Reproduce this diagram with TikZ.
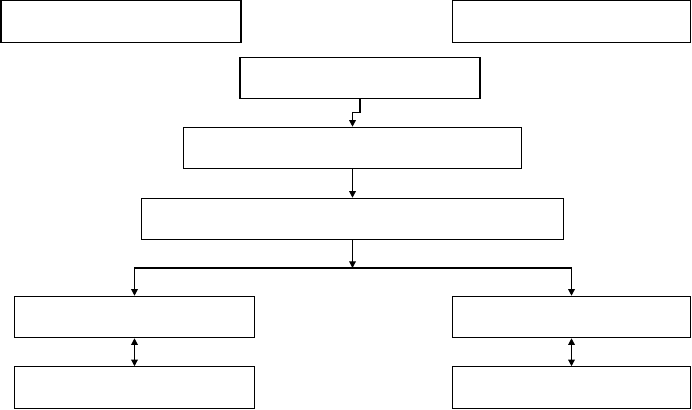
\documentclass[tikz,border=0pt]{standalone}
\usetikzlibrary{arrows.meta}

\begin{document}
\begin{tikzpicture}[x=0.75pt,y=-0.75pt,
  box/.style={draw, line width=0.9pt, minimum height=31pt, inner sep=0pt},
  arr/.style={line width=0.9pt, -{Triangle[length=5pt,width=5pt]}}]
\useasboundingbox (0,0) rectangle (692,410);
\node[box, minimum width=180pt] (topl) at (121,21.5) {};
\node[box, minimum width=179pt] (topr) at (571.5,21.5) {};
\node[box, minimum width=180pt] (a) at (360,78) {};
\node[box, minimum width=254pt] (b) at (352.5,148) {};
\node[box, minimum width=316pt] (c) at (352.5,219) {};
\node[box, minimum width=180pt] (dl) at (134.5,317) {};
\node[box, minimum width=180pt] (el) at (134.5,387.5) {};
\node[box, minimum width=179pt] (dr) at (571.5,317) {};
\node[box, minimum width=179pt] (er) at (571.5,387.5) {};
\draw[arr] (a.south) -- ++(0,13) -| (b.north);
\draw[arr] (b.south) -- (c.north);
\coordinate (split) at (352.5,268);
\draw[arr] (c.south) -- (split);
\draw[arr] (split) -| (dl.north);
\draw[arr] (split) -| (dr.north);
\draw[arr, {Triangle[length=5pt,width=5pt]}-{Triangle[length=5pt,width=5pt]}] (dl.south) -- (el.north);
\draw[arr, {Triangle[length=5pt,width=5pt]}-{Triangle[length=5pt,width=5pt]}] (dr.south) -- (er.north);
\end{tikzpicture}
\end{document}
